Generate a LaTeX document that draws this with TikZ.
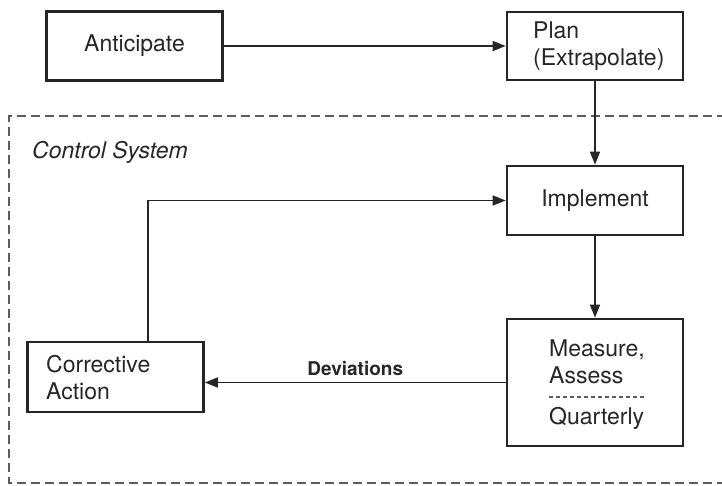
\documentclass[tikz,border=0pt]{standalone}
\usepackage{fontspec}
\setmainfont{TeX Gyre Heros}
\usetikzlibrary{arrows.meta}
\definecolor{ink}{HTML}{262626}
\definecolor{frame}{HTML}{5C5C5C}
\begin{document}
\begin{tikzpicture}[x=1pt,y=-1pt,
  every node/.style={text=ink, font=\fontsize{23}{27}\selectfont},
  box/.style={draw=ink, line width=2.7pt, minimum width=176pt, inner sep=0pt},
  lbl/.style={anchor=west, align=left, inner sep=0pt},
  arr/.style={draw=ink, line width=1.6pt, -{Triangle[length=13pt,width=10pt]}},
  system/.style={draw=frame, line width=2.2pt, dash pattern=on 9pt off 5pt}]
\useasboundingbox (0,0) rectangle (722,485);
\fill[white] (0,0) rectangle (722,485);

% control system boundary (runs past the right edge)
\draw[system] (740,116) -- (9,116) -- (9,483) -- (740,483);
\node[lbl, font=\fontsize{23}{27}\selectfont\itshape] (ctl) at (32,152) {Control System};

% boxes
\node[box, minimum height=69pt] (ant) at (134.5,46) {Anticipate};
\node[box, minimum height=68pt] (plan) at (595,46) {};
\node[lbl] (planT) at (533,46) {Plan\\(Extrapolate)};
\node[box, minimum height=69pt] (impl) at (595,200.5) {Implement};
\node[box, minimum height=127pt] (meas) at (595,382.5) {};
\node[lbl] (measT) at (549,361.5) {Measure,\\Assess};
\node[lbl] (quart) at (549,418) {Quarterly};
\draw[ink!75, line width=1.1pt, dash pattern=on 4pt off 3pt] (549,397) -- (645,397);
\node[box, minimum height=70pt] (corr) at (115.5,377) {};
\node[lbl] (corrT) at (46,378) {Corrective\\Action};

% flows
\coordinate (fb) at (148,0);
\draw[arr] (ant) -- (plan);
\draw[arr] (plan) -- (impl);
\draw[arr] (impl) -- (meas);
\draw[arr] (meas.west) -- (meas.west -| corr.east)
  node[pos=0.5, yshift=14pt, inner sep=0pt, font=\fontsize{19}{22}\selectfont\bfseries] (dev) {Deviations};
\draw[arr] (corr.north -| fb) |- (impl.west);
\end{tikzpicture}
\end{document}
